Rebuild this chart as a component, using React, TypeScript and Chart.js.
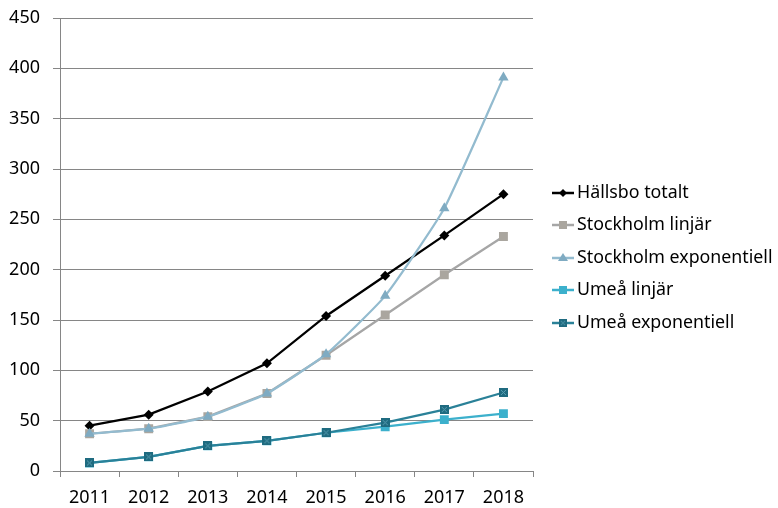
import React, { useEffect, useRef } from "react";
import { Chart, registerables } from "chart.js";

Chart.register(...registerables);

const years = ["2011", "2012", "2013", "2014", "2015", "2016", "2017", "2018"];
const hallsboTotalt = [45, 56, 79, 107, 154, 194, 234, 275];
const stockholmLinjar = [37, 42, 54, 77, 115, 155, 195, 233];
const stockholmExponentiell = [37, 42, 54, 77, 116, 174, 261, 391];
const umeaLinjar = [8, 14, 25, 30, 38, 44, 51, 57];
const umeaExponentiell = [8, 14, 25, 30, 38, 48, 61, 78];
const yTicks = [0, 50, 100, 150, 200, 250, 300, 350, 400, 450];

const FONT = "'Noto Sans', 'Open Sans', sans-serif";

function makeXSquare(n: number): HTMLCanvasElement {
  const c = document.createElement("canvas");
  c.width = n;
  c.height = n;
  const g = c.getContext("2d")!;
  g.fillStyle = "#1f6b80";
  g.fillRect(0, 0, n, n);
  g.strokeStyle = "#5a9fb3";
  g.lineWidth = 1;
  g.beginPath();
  g.moveTo(2, 2);
  g.lineTo(n - 2, n - 2);
  g.moveTo(n - 2, 2);
  g.lineTo(2, n - 2);
  g.stroke();
  return c;
}

export default function App() {
  const ref = useRef<HTMLCanvasElement | null>(null);

  useEffect(() => {
    document.body.style.margin = "0";
    const xsq = makeXSquare(9);
    const series = [
      { label: "Hällsbo totalt", data: hallsboTotalt, color: "#000000", marker: "#000000", style: "rectRot", radius: 5, tension: 0 },
      { label: "Stockholm linjär", data: stockholmLinjar, color: "#a6a6a6", marker: "#aaa69f", style: "rect", radius: 6.3, tension: 0 },
      { label: "Stockholm exponentiell", data: stockholmExponentiell, color: "#93bbcf", marker: "#7fabc2", style: "triangle", radius: 6, tension: 0.15 },
      { label: "Umeå linjär", data: umeaLinjar, color: "#3cb0cc", marker: "#3cb0cc", style: "rect", radius: 6.3, tension: 0 },
      { label: "Umeå exponentiell", data: umeaExponentiell, color: "#2a8198", marker: "#1f6b80", style: xsq as any, radius: 5, tension: 0 },
    ];

    const legendPlugin = {
      id: "customLegend",
      afterDraw(chart: any) {
        const ctx = chart.ctx as CanvasRenderingContext2D;
        const x0 = 552;
        const rows = [193, 225, 258, 290, 323];
        series.forEach((s, i) => {
          const y = rows[i];
          ctx.save();
          ctx.strokeStyle = s.color;
          ctx.lineWidth = 2.5;
          ctx.beginPath();
          ctx.moveTo(x0, y);
          ctx.lineTo(x0 + 22, y);
          ctx.stroke();
          const cx = x0 + 11;
          ctx.fillStyle = s.marker;
          if (s.style === "rectRot") {
            ctx.beginPath();
            ctx.moveTo(cx, y - 4);
            ctx.lineTo(cx + 4, y);
            ctx.lineTo(cx, y + 4);
            ctx.lineTo(cx - 4, y);
            ctx.closePath();
            ctx.fill();
          } else if (s.style === "rect") {
            ctx.fillRect(cx - 4, y - 4, 8, 8);
          } else if (s.style === "triangle") {
            ctx.beginPath();
            ctx.moveTo(cx, y - 5);
            ctx.lineTo(cx + 5, y + 3);
            ctx.lineTo(cx - 5, y + 3);
            ctx.closePath();
            ctx.fill();
          } else {
            ctx.drawImage(xsq, cx - 4, y - 4, 8, 8);
          }
          ctx.fillStyle = "#000";
          ctx.font = `17.8px ${FONT}`;
          ctx.textBaseline = "middle";
          ctx.textAlign = "left";
          ctx.fillText(s.label, x0 + 25, y);
          ctx.restore();
        });
      },
    };

    const chart = new Chart(ref.current!, {
      type: "line",
      data: {
        labels: years,
        datasets: series.map((s, i) => ({
          label: s.label,
          data: s.data,
          borderColor: s.color,
          backgroundColor: s.marker,
          pointBackgroundColor: s.marker,
          pointBorderColor: s.marker,
          pointBorderWidth: 0,
          pointStyle: s.style as any,
          pointRadius: s.radius,
          borderWidth: 2.25,
          tension: s.tension,
          fill: false,
          order: 5 - i,
        })),
      },
      options: {
        animation: false,
        responsive: false,
        maintainAspectRatio: false,
        layout: { padding: { top: 18, right: 245, left: 0, bottom: 0 } },
        plugins: {
          legend: { display: false },
          tooltip: { enabled: false },
        },
        scales: {
          x: {
            offset: true,
            grid: {
              offset: true,
              drawOnChartArea: false,
              drawTicks: true,
              tickLength: 6,
              color: "#868686",
            },
            border: { color: "#868686", width: 1 },
            ticks: {
              color: "#000",
              font: { family: FONT, size: 18 },
              padding: 10,
              maxRotation: 0,
            },
            afterFit: (s: any) => {
              s.height = 37;
              s.paddingLeft = 0;
              s.paddingRight = 0;
            },
          },
          y: {
            min: 0,
            max: 450,
            afterBuildTicks: (s: any) => {
              s.ticks = yTicks.map((v) => ({ value: v }));
            },
            grid: {
              color: "#868686",
              tickLength: 7,
              lineWidth: 1,
            },
            border: { color: "#868686", width: 1 },
            ticks: {
              color: "#000",
              font: { family: FONT, size: 18 },
              padding: 13,
            },
            afterFit: (s: any) => {
              s.width = 60;
              s.paddingTop = 0;
              s.paddingBottom = 0;
            },
          },
        },
      },
      plugins: [legendPlugin],
    });
    return () => chart.destroy();
  }, []);

  return (
    <div style={{ width: 778, height: 508 }}>
      <canvas ref={ref} width={778} height={508} style={{ display: "block" }} />
    </div>
  );
}
